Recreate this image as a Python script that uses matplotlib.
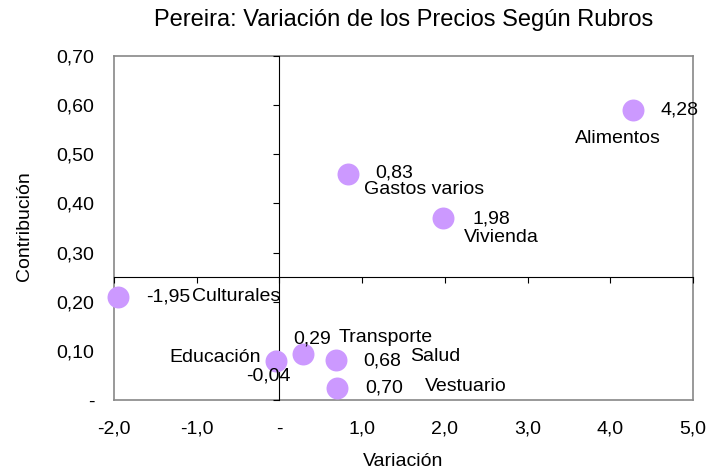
import matplotlib
matplotlib.use("Agg")
from matplotlib import pyplot as plt
from matplotlib.ticker import FuncFormatter, MultipleLocator

plt.rcParams['font.family'] = ['Liberation Sans', 'DejaVu Sans']

# datos
rubros = ['Alimentos', 'Gastos varios', 'Vivienda', 'Culturales',
          'Educación', 'Transporte', 'Salud', 'Vestuario']
variacion = [4.28, 0.83, 1.98, -1.95, -0.04, 0.29, 0.68, 0.70]
contribucion = [0.59, 0.46, 0.37, 0.21, 0.08, 0.093, 0.081, 0.025]

# desplazamiento de etiquetas en pixeles (valor, nombre)
off_valor = [(27, 0, 'left'), (27, 1, 'left'), (29, -1, 'left'), (28, 0, 'left'),
             (-30, -15, 'left'), (-10, 15, 'left'), (28, -1, 'left'), (28, 0, 'left')]
off_nombre = [(-16, -28, 'center'), (16, -16, 'left'), (21, -19, 'left'), (74, 0, 'left'),
              (-15, 3, 'right'), (35, 17, 'left'), (74, 4, 'left'), (88, 1, 'left')]

W, H = 709, 476
fig = plt.figure(figsize=(W / 100, H / 100), dpi=100)
pos = [114 / W, 1 - 400 / H, 579 / W, 344 / H]


def fmt_x(v, p):
    return '-' if abs(v) < 1e-9 else ('%.1f' % v).replace('.', ',')


def fmt_y(v, p):
    return '-' if abs(v) < 1e-9 else ('%.2f' % v).replace('.', ',')


# ejes con marco gris y etiquetas de los ejes
ax = fig.add_axes(pos)
ax.set_xlim(-2, 5)
ax.set_ylim(0, 0.7)
ax.xaxis.set_major_locator(MultipleLocator(1))
ax.yaxis.set_major_locator(MultipleLocator(0.1))
ax.xaxis.set_major_formatter(FuncFormatter(fmt_x))
ax.yaxis.set_major_formatter(FuncFormatter(fmt_y))
ax.tick_params(length=0, labelsize=14, pad=14)
ax.tick_params(axis='x', pad=15)
for s in ax.spines.values():
    s.set_color('#888888')
    s.set_linewidth(1.2)

# ejes que se cruzan en (0, 0.25)
ax2 = fig.add_axes(pos, sharex=ax, sharey=ax)
ax2.patch.set_visible(False)
ax2.spines['top'].set_visible(False)
ax2.spines['right'].set_visible(False)
ax2.spines['left'].set_position(('data', 0))
ax2.spines['bottom'].set_position(('data', 0.25))
for s in ('left', 'bottom'):
    ax2.spines[s].set_linewidth(0.8)
    ax2.spines[s].set_color('black')
ax2.tick_params(labelleft=False, labelbottom=False, direction='out',
                length=4.5, width=0.8, color='black')

ax2.scatter(variacion, contribucion, s=250, color='#CC99FF', zorder=3,
            linewidths=0, clip_on=False)

k = 0.72
for i, r in enumerate(rubros):
    dx, dy, ha = off_valor[i]
    ax2.annotate(('%.2f' % variacion[i]).replace('.', ','),
                 (variacion[i], contribucion[i]), xytext=(dx * k, dy * k),
                 textcoords='offset points', ha=ha, va='center', fontsize=14,
                 zorder=4, annotation_clip=False)
    dx, dy, ha = off_nombre[i]
    ax2.annotate(r, (variacion[i], contribucion[i]), xytext=(dx * k, dy * k),
                 textcoords='offset points', ha=ha, va='center', fontsize=14,
                 zorder=4, annotation_clip=False)

fig.text(0.5 * (114 + 693) / W, 1 - 20 / H,
         'Pereira: Variación de los Precios Según Rubros',
         ha='center', va='center', fontsize=17)
fig.text(24 / W, 1 - 226 / H, 'Contribución', rotation=90,
         ha='center', va='center', fontsize=14)
fig.text(403 / W, 1 - 461 / H, 'Variación', ha='center', va='center',
         fontsize=14)

fig.savefig('out.png', dpi=100)
